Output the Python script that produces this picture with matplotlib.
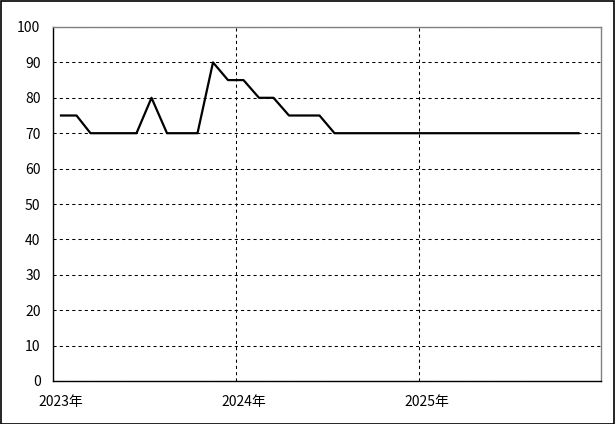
import matplotlib.pyplot as plt
import matplotlib.transforms as mtransforms
from matplotlib.patches import Rectangle
import pandas as pd

plt.rcParams['font.family'] = ['Noto Sans CJK JP', 'DejaVu Sans']

# monthly values, Jan 2023 .. Nov 2025 (plotted mid-month)
months = pd.date_range('2023-01-01', periods=35, freq='MS') + pd.Timedelta(days=16)
values = [75, 75, 70, 70, 70, 70, 80, 70, 70, 70, 90, 85,
          85, 80, 80, 75, 75, 75, 70, 70, 70, 70, 70, 70,
          70, 70, 70, 70, 70, 70, 70, 70, 70, 70, 70]
year_ticks = pd.to_datetime(['2023-01-01', '2024-01-01', '2025-01-01'])
year_labels = ['2023年', '2024年', '2025年']

fig = plt.figure(figsize=(6.15, 4.24), dpi=100)
ax = fig.add_axes([53 / 615, 43 / 424, 548 / 615, 354 / 424])

ax.plot(months, values, color='black', linewidth=1.6)

ax.set_xlim(pd.Timestamp('2023-01-01'), pd.Timestamp('2026-01-01'))
ax.set_ylim(0, 100)
ax.set_yticks(range(0, 101, 10))
ax.set_xticks(year_ticks)
ax.set_xticklabels(year_labels)

ax.grid(True, color='black', linestyle=(0, (3, 3)), linewidth=0.75)
ax.tick_params(length=0, labelsize=10)
ax.tick_params(axis='y', pad=9)
ax.tick_params(axis='x', pad=10)
offset = mtransforms.ScaledTranslation(8 / 100, 0, fig.dpi_scale_trans)
for lbl in ax.get_xticklabels():
    lbl.set_transform(lbl.get_transform() + offset)

ax.spines['left'].set_color('black')
ax.spines['bottom'].set_color('black')
ax.spines['top'].set_color('#808080')
ax.spines['right'].set_color('#808080')
for s in ax.spines.values():
    s.set_linewidth(1)

fig.patches.append(Rectangle((0.001, 0.001), 0.997, 0.997, transform=fig.transFigure,
                             fill=False, edgecolor='black', linewidth=1.2))

fig.savefig('out.png', dpi=100)
